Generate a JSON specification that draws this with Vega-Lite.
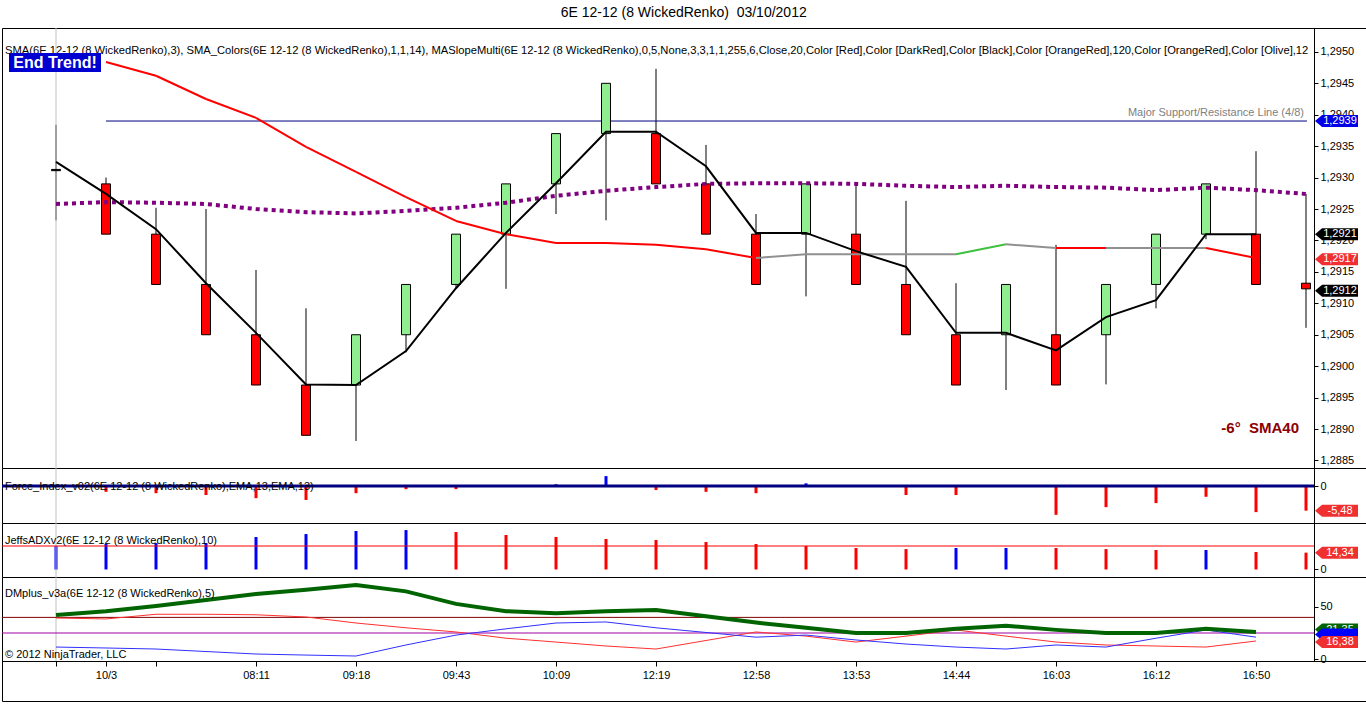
{
  "$schema": "https://vega.github.io/schema/vega-lite/v6.json",
  "title": {"text": "6E 12-12 (8 WickedRenko) \u00a003/10/2012", "fontSize": 14, "fontWeight": "normal", "font": "Liberation Sans", "offset": 7, "anchor": "middle", "color": "#000000"},
  "padding": {"left": 0, "top": 6, "right": 1, "bottom": 0},
  "background": "#ffffff",
  "spacing": 0,
  "bounds": "flush",
  "config": {
    "view": {"stroke": "#000000", "strokeWidth": 1},
    "axis": {"labelFont": "Liberation Sans", "labelFontSize": 11, "labelColor": "#000000", "tickColor": "#000000", "domainColor": "#000000", "grid": false, "title": null, "labelOverlap": false},
    "scale": {"continuousPadding": 0},
    "text": {"font": "Liberation Sans"}
  },
  "datasets": {
    "candles": [
      {"i": 0, "o": 1.29313, "h": 1.29384, "l": 1.29232, "c": 1.29311, "dir": "flat"},
      {"i": 1, "o": 1.2929, "h": 1.2930, "l": 1.2921, "c": 1.2921, "dir": "down"},
      {"i": 2, "o": 1.2921, "h": 1.29252, "l": 1.2913, "c": 1.2913, "dir": "down"},
      {"i": 3, "o": 1.2913, "h": 1.2925, "l": 1.2905, "c": 1.2905, "dir": "down"},
      {"i": 4, "o": 1.2905, "h": 1.29153, "l": 1.2897, "c": 1.2897, "dir": "down"},
      {"i": 5, "o": 1.2897, "h": 1.29092, "l": 1.2889, "c": 1.2889, "dir": "down"},
      {"i": 6, "o": 1.2897, "h": 1.2905, "l": 1.28881, "c": 1.2905, "dir": "up"},
      {"i": 7, "o": 1.2905, "h": 1.2913, "l": 1.29022, "c": 1.2913, "dir": "up"},
      {"i": 8, "o": 1.2913, "h": 1.2921, "l": 1.29123, "c": 1.2921, "dir": "up"},
      {"i": 9, "o": 1.2921, "h": 1.2929, "l": 1.29123, "c": 1.2929, "dir": "up"},
      {"i": 10, "o": 1.2929, "h": 1.2937, "l": 1.29242, "c": 1.2937, "dir": "up"},
      {"i": 11, "o": 1.2937, "h": 1.2945, "l": 1.29232, "c": 1.2945, "dir": "up"},
      {"i": 12, "o": 1.2937, "h": 1.29473, "l": 1.2929, "c": 1.2929, "dir": "down"},
      {"i": 13, "o": 1.2929, "h": 1.29352, "l": 1.2921, "c": 1.2921, "dir": "down"},
      {"i": 14, "o": 1.2921, "h": 1.29242, "l": 1.2913, "c": 1.2913, "dir": "down"},
      {"i": 15, "o": 1.2921, "h": 1.2929, "l": 1.29111, "c": 1.2929, "dir": "up"},
      {"i": 16, "o": 1.2921, "h": 1.29291, "l": 1.2913, "c": 1.2913, "dir": "down"},
      {"i": 17, "o": 1.2913, "h": 1.29263, "l": 1.2905, "c": 1.2905, "dir": "down"},
      {"i": 18, "o": 1.2905, "h": 1.29132, "l": 1.2897, "c": 1.2897, "dir": "down"},
      {"i": 19, "o": 1.2905, "h": 1.2913, "l": 1.28962, "c": 1.2913, "dir": "up"},
      {"i": 20, "o": 1.2905, "h": 1.29193, "l": 1.2897, "c": 1.2897, "dir": "down"},
      {"i": 21, "o": 1.2905, "h": 1.2913, "l": 1.28971, "c": 1.2913, "dir": "up"},
      {"i": 22, "o": 1.2913, "h": 1.2921, "l": 1.29092, "c": 1.2921, "dir": "up"},
      {"i": 23, "o": 1.2921, "h": 1.2929, "l": 1.29202, "c": 1.2929, "dir": "up"},
      {"i": 24, "o": 1.2921, "h": 1.29342, "l": 1.2913, "c": 1.2913, "dir": "down"},
      {"i": 25, "o": 1.29132, "h": 1.29274, "l": 1.29061, "c": 1.29123, "dir": "down"}
    ],
    "sma3": [
      {"i": 0, "v": 1.29325}, {"i": 1, "v": 1.29274}, {"i": 2, "v": 1.29218}, {"i": 3, "v": 1.29132},
      {"i": 4, "v": 1.29053}, {"i": 5, "v": 1.28971}, {"i": 6, "v": 1.2897}, {"i": 7, "v": 1.29024},
      {"i": 8, "v": 1.29124}, {"i": 9, "v": 1.29212}, {"i": 10, "v": 1.29291}, {"i": 11, "v": 1.29373},
      {"i": 12, "v": 1.29373}, {"i": 13, "v": 1.29318}, {"i": 14, "v": 1.29212}, {"i": 15, "v": 1.29212},
      {"i": 16, "v": 1.29183}, {"i": 17, "v": 1.29158}, {"i": 18, "v": 1.29053}, {"i": 19, "v": 1.29053},
      {"i": 20, "v": 1.29025}, {"i": 21, "v": 1.29078}, {"i": 22, "v": 1.29105}, {"i": 23, "v": 1.2921},
      {"i": 24, "v": 1.2921}
    ],
    "maseg": [
      {"i0": 1, "v0": 1.29484, "i1": 2, "v1": 1.29462, "k": "down"},
      {"i0": 2, "v0": 1.29462, "i1": 3, "v1": 1.29425, "k": "down"},
      {"i0": 3, "v0": 1.29425, "i1": 4, "v1": 1.29395, "k": "down"},
      {"i0": 4, "v0": 1.29395, "i1": 5, "v1": 1.29349, "k": "down"},
      {"i0": 5, "v0": 1.29349, "i1": 6, "v1": 1.29309, "k": "down"},
      {"i0": 6, "v0": 1.29309, "i1": 7, "v1": 1.29269, "k": "down"},
      {"i0": 7, "v0": 1.29269, "i1": 8, "v1": 1.29231, "k": "down"},
      {"i0": 8, "v0": 1.29231, "i1": 9, "v1": 1.2921, "k": "down"},
      {"i0": 9, "v0": 1.2921, "i1": 10, "v1": 1.29196, "k": "down"},
      {"i0": 10, "v0": 1.29196, "i1": 11, "v1": 1.29196, "k": "down"},
      {"i0": 11, "v0": 1.29196, "i1": 12, "v1": 1.29193, "k": "down"},
      {"i0": 12, "v0": 1.29193, "i1": 13, "v1": 1.29186, "k": "down"},
      {"i0": 13, "v0": 1.29186, "i1": 14, "v1": 1.29172, "k": "down"},
      {"i0": 14, "v0": 1.29172, "i1": 15, "v1": 1.29178, "k": "flat"},
      {"i0": 15, "v0": 1.29178, "i1": 16, "v1": 1.29178, "k": "flat"},
      {"i0": 16, "v0": 1.29178, "i1": 17, "v1": 1.29178, "k": "flat"},
      {"i0": 17, "v0": 1.29178, "i1": 18, "v1": 1.29178, "k": "flat"},
      {"i0": 18, "v0": 1.29178, "i1": 19, "v1": 1.29194, "k": "up"},
      {"i0": 19, "v0": 1.29194, "i1": 20, "v1": 1.29188, "k": "flat"},
      {"i0": 20, "v0": 1.29188, "i1": 21, "v1": 1.29188, "k": "down"},
      {"i0": 21, "v0": 1.29188, "i1": 22, "v1": 1.29188, "k": "flat"},
      {"i0": 22, "v0": 1.29188, "i1": 23, "v1": 1.29188, "k": "flat"},
      {"i0": 23, "v0": 1.29188, "i1": 24, "v1": 1.29172, "k": "down"}
    ],
    "sma40": [
      {"i": 0, "v": 1.29258}, {"i": 1, "v": 1.29261}, {"i": 2, "v": 1.2926}, {"i": 3, "v": 1.29258},
      {"i": 4, "v": 1.2925}, {"i": 5, "v": 1.29245}, {"i": 6, "v": 1.29243}, {"i": 7, "v": 1.29247},
      {"i": 8, "v": 1.29252}, {"i": 9, "v": 1.2926}, {"i": 10, "v": 1.29271}, {"i": 11, "v": 1.29279},
      {"i": 12, "v": 1.29285}, {"i": 13, "v": 1.2929}, {"i": 14, "v": 1.29291}, {"i": 15, "v": 1.29291},
      {"i": 16, "v": 1.2929}, {"i": 17, "v": 1.29287}, {"i": 18, "v": 1.29285}, {"i": 19, "v": 1.29287},
      {"i": 20, "v": 1.29285}, {"i": 21, "v": 1.29284}, {"i": 22, "v": 1.2928}, {"i": 23, "v": 1.29284},
      {"i": 24, "v": 1.2928}, {"i": 25, "v": 1.29274}
    ],
    "force": [
      {"i": 1, "v": -1.3}, {"i": 2, "v": -1.6}, {"i": 3, "v": -2.0}, {"i": 4, "v": -2.7},
      {"i": 5, "v": -3.1}, {"i": 6, "v": -1.6}, {"i": 7, "v": -0.7}, {"i": 8, "v": -0.7},
      {"i": 9, "v": 0}, {"i": 10, "v": 0.4}, {"i": 11, "v": 2.2}, {"i": 12, "v": -0.9},
      {"i": 13, "v": -1.3}, {"i": 14, "v": -1.6}, {"i": 15, "v": 0.6}, {"i": 16, "v": 0},
      {"i": 17, "v": -2.0}, {"i": 18, "v": -2.0}, {"i": 19, "v": -0.1}, {"i": 20, "v": -6.4},
      {"i": 21, "v": -4.7}, {"i": 22, "v": -3.8}, {"i": 23, "v": -2.4}, {"i": 24, "v": -5.8},
      {"i": 25, "v": -5.48}
    ],
    "adx": [
      {"i": 0, "v": 20, "dir": "up"}, {"i": 1, "v": 21.7, "dir": "up"}, {"i": 2, "v": 22.5, "dir": "up"},
      {"i": 3, "v": 22.5, "dir": "up"}, {"i": 4, "v": 27.7, "dir": "up"}, {"i": 5, "v": 30.2, "dir": "up"},
      {"i": 6, "v": 32.8, "dir": "up"}, {"i": 7, "v": 33.6, "dir": "up"}, {"i": 8, "v": 31.9, "dir": "down"},
      {"i": 9, "v": 29.4, "dir": "down"}, {"i": 10, "v": 27.7, "dir": "down"}, {"i": 11, "v": 26, "dir": "down"},
      {"i": 12, "v": 25.1, "dir": "down"}, {"i": 13, "v": 23.4, "dir": "down"}, {"i": 14, "v": 21.7, "dir": "down"},
      {"i": 15, "v": 20, "dir": "down"}, {"i": 16, "v": 18.3, "dir": "down"}, {"i": 17, "v": 17.4, "dir": "down"},
      {"i": 18, "v": 18.3, "dir": "up"}, {"i": 19, "v": 18.3, "dir": "up"}, {"i": 20, "v": 18.3, "dir": "down"},
      {"i": 21, "v": 17.4, "dir": "down"}, {"i": 22, "v": 16.6, "dir": "down"}, {"i": 23, "v": 16.6, "dir": "up"},
      {"i": 24, "v": 14.9, "dir": "down"}, {"i": 25, "v": 14.34, "dir": "down"}
    ],
    "dm": [
      {"i": 0, "adx": 42.3, "dmm": 39.4, "dmp": 11.5},
      {"i": 1, "adx": 46, "dmm": 38.5, "dmp": 10.6},
      {"i": 2, "adx": 51, "dmm": 43, "dmp": 9.6},
      {"i": 3, "adx": 56.7, "dmm": 43, "dmp": 7.2},
      {"i": 4, "adx": 62.5, "dmm": 42.5, "dmp": 4.8},
      {"i": 5, "adx": 66.5, "dmm": 40.4, "dmp": 3.8},
      {"i": 6, "adx": 71, "dmm": 34.6, "dmp": 2.9},
      {"i": 7, "adx": 65, "dmm": 30, "dmp": 13.5},
      {"i": 8, "adx": 53, "dmm": 26, "dmp": 23},
      {"i": 9, "adx": 46, "dmm": 20, "dmp": 29},
      {"i": 10, "adx": 44, "dmm": 16.3, "dmp": 34.6},
      {"i": 11, "adx": 46, "dmm": 12.5, "dmp": 35.6},
      {"i": 12, "adx": 47, "dmm": 9.6, "dmp": 30},
      {"i": 13, "adx": 41, "dmm": 17.8, "dmp": 25.5},
      {"i": 14, "adx": 35, "dmm": 26, "dmp": 21},
      {"i": 15, "adx": 30, "dmm": 22, "dmp": 23},
      {"i": 16, "adx": 25, "dmm": 16.3, "dmp": 18.3},
      {"i": 17, "adx": 25, "dmm": 22, "dmp": 14.4},
      {"i": 18, "adx": 29, "dmm": 27.9, "dmp": 11.5},
      {"i": 19, "adx": 32, "dmm": 22, "dmp": 9.6},
      {"i": 20, "adx": 28, "dmm": 16.3, "dmp": 13.5},
      {"i": 21, "adx": 25, "dmm": 13.5, "dmp": 11.5},
      {"i": 22, "adx": 25, "dmm": 12.5, "dmp": 20},
      {"i": 23, "adx": 29, "dmm": 11.5, "dmp": 27.9},
      {"i": 24, "adx": 26, "dmm": 17.3, "dmp": 21}
    ]
  },
  "vconcat": [
    {
      "width": 1365,
      "height": 440,
      "resolve": {"scale": {"fill": "independent", "stroke": "independent", "color": "independent"}},
      "layer": [
        {
          "data": {"name": "candles"},
          "mark": {"type": "rule", "color": "#000000", "strokeWidth": 1},
          "encoding": {
            "x": {"field": "i", "type": "quantitative", "scale": {"domain": [-1.08, 26.22], "nice": false, "zero": false, "padding": 0}, "axis": null},
            "y": {"field": "l", "type": "quantitative", "scale": {"domain": [1.28838, 1.29538], "nice": false, "zero": false},
              "axis": {"orient": "right", "offset": -53, "values": [1.2885, 1.289, 1.2895, 1.29, 1.2905, 1.291, 1.2915, 1.292, 1.2925, 1.293, 1.2935, 1.294, 1.2945, 1.295],
                "tickCount": 40, "labelExpr": "replace(format(datum.value, '.4f'), '.', ',')", "tickSize": 4, "labelPadding": 2, "domain": true, "labelOverlap": false, "labelFlush": false, "labelBound": false}},
            "y2": {"field": "h"}
          }
        },
        {
          "data": {"values": [{}]},
          "mark": {"type": "rule", "color": "#c0c0c0", "strokeWidth": 1},
          "encoding": {"x": {"datum": 0, "type": "quantitative"}}
        },
        {
          "data": {"values": [{}]},
          "mark": {"type": "rule", "color": "#000080", "strokeWidth": 1},
          "encoding": {"x": {"datum": 1, "type": "quantitative"}, "x2": {"datum": 25.02}, "y": {"datum": 1.2939, "type": "quantitative"}}
        },
        {
          "data": {"values": [{}]},
          "mark": {"type": "text", "align": "right", "baseline": "middle", "fontSize": 11, "color": "#808080"},
          "encoding": {"x": {"datum": 24.96, "type": "quantitative"}, "y": {"datum": 1.29403, "type": "quantitative"}, "text": {"value": "Major Support/Resistance Line (4/8)"}}
        },
        {
          "data": {"name": "candles"},
          "mark": {"type": "bar", "width": 9, "stroke": "#000000", "strokeWidth": 1},
          "encoding": {
            "x": {"field": "i", "type": "quantitative"},
            "y": {"field": "o", "type": "quantitative"},
            "y2": {"field": "c"},
            "fill": {"field": "dir", "type": "nominal", "scale": {"domain": ["up", "down", "flat"], "range": ["#90ee90", "#ff0000", "#000000"]}, "legend": null}
          }
        },
        {
          "data": {"name": "sma40"},
          "mark": {"type": "line", "color": "#800080", "strokeWidth": 4, "strokeDash": [4, 4]},
          "encoding": {"x": {"field": "i", "type": "quantitative"}, "y": {"field": "v", "type": "quantitative"}}
        },
        {
          "data": {"name": "maseg"},
          "mark": {"type": "rule", "strokeWidth": 2},
          "encoding": {
            "x": {"field": "i0", "type": "quantitative"},
            "x2": {"field": "i1"},
            "y": {"field": "v0", "type": "quantitative"},
            "y2": {"field": "v1"},
            "stroke": {"field": "k", "type": "nominal", "scale": {"domain": ["down", "flat", "up"], "range": ["#ff0000", "#909090", "#40c040"]}, "legend": null}
          }
        },
        {
          "data": {"name": "sma3"},
          "mark": {"type": "line", "color": "#000000", "strokeWidth": 2},
          "encoding": {"x": {"field": "i", "type": "quantitative"}, "y": {"field": "v", "type": "quantitative"}}
        },
        {
          "data": {"values": [{}]},
          "mark": {"type": "text", "align": "left", "baseline": "middle", "fontSize": 11.2, "color": "#000000"},
          "encoding": {"x": {"datum": -1.02, "type": "quantitative"}, "y": {"datum": 1.29502, "type": "quantitative"},
            "text": {"value": "SMA(6E 12-12 (8 WickedRenko),3), SMA_Colors(6E 12-12 (8 WickedRenko),1,1,14), MASlopeMulti(6E 12-12 (8 WickedRenko),0,5,None,3,3,1,1,255,6,Close,20,Color [Red],Color [DarkRed],Color [Black],Color [OrangeRed],120,Color [OrangeRed],Color [Olive],12"}}
        },
        {
          "data": {"values": [{}]},
          "mark": {"type": "point", "shape": "M-1,-0.2065L1,-0.2065L1,0.2065L-1,0.2065Z", "size": 8464, "filled": true, "color": "#0000d0", "opacity": 1},
          "encoding": {"x": {"datum": -0.02, "type": "quantitative"}, "y": {"datum": 1.29483, "type": "quantitative"}}
        },
        {
          "data": {"values": [{}]},
          "mark": {"type": "text", "align": "center", "baseline": "middle", "fontSize": 16, "fontWeight": "bold", "color": "#ffffff"},
          "encoding": {"x": {"datum": -0.02, "type": "quantitative"}, "y": {"datum": 1.29483, "type": "quantitative"}, "text": {"value": "End Trend!"}}
        },
        {
          "data": {"values": [{}]},
          "mark": {"type": "text", "align": "right", "baseline": "middle", "fontSize": 15, "fontWeight": "bold", "color": "#8b0000"},
          "encoding": {"x": {"datum": 24.86, "type": "quantitative"}, "y": {"datum": 1.28901, "type": "quantitative"}, "text": {"value": "-6° \u00a0SMA40"}}
        },
        {
          "data": {"values": [
            {"v": 1.2939, "t": "1,2939", "k": "line"},
            {"v": 1.2921, "t": "1,2921", "k": "sma"},
            {"v": 1.2917, "t": "1,2917", "k": "ma"},
            {"v": 1.2912, "t": "1,2912", "k": "price"}
          ]},
          "layer": [
            {
              "mark": {"type": "point", "shape": "M-1,0L-0.67,-0.28L1,-0.28L1,0.28L-0.67,0.28Z", "size": 1849, "filled": true, "opacity": 1},
              "encoding": {"x": {"datum": 25.61, "type": "quantitative"}, "y": {"field": "v", "type": "quantitative"},
                "fill": {"field": "k", "type": "nominal", "scale": {"domain": ["line", "sma", "ma", "price"], "range": ["#0000e6", "#000000", "#f03030", "#000000"]}, "legend": null}}
            },
            {
              "mark": {"type": "text", "align": "center", "baseline": "middle", "fontSize": 11, "color": "#ffffff"},
              "encoding": {"x": {"datum": 25.68, "type": "quantitative"}, "y": {"field": "v", "type": "quantitative"}, "text": {"field": "t"}}
            }
          ]
        }
      ]
    },
    {
      "width": 1365,
      "height": 55,
      "layer": [
        {
          "data": {"name": "force"},
          "mark": {"type": "bar", "width": 3},
          "encoding": {
            "x": {"field": "i", "type": "quantitative", "scale": {"domain": [-1.08, 26.22], "nice": false, "zero": false, "padding": 0}, "axis": null},
            "y": {"field": "v", "type": "quantitative", "scale": {"domain": [-8.22, 4.0], "nice": false, "zero": false},
              "axis": {"orient": "right", "offset": -53, "values": [0], "tickSize": 4, "labelPadding": 2, "domain": true}},
            "y2": {"datum": 0},
            "color": {"condition": {"test": "datum.v > 0", "value": "#0000ff"}, "value": "#ff0000"}
          }
        },
        {
          "data": {"values": [{}]},
          "mark": {"type": "rule", "color": "#c0c0c0", "strokeWidth": 1},
          "encoding": {"x": {"datum": 0, "type": "quantitative"}}
        },
        {
          "data": {"values": [{}]},
          "mark": {"type": "rule", "color": "#000080", "strokeWidth": 3},
          "encoding": {"x": {"datum": -1.08, "type": "quantitative"}, "x2": {"datum": 25.16}, "y": {"datum": 0, "type": "quantitative"}}
        },
        {
          "data": {"values": [{}]},
          "mark": {"type": "text", "align": "left", "baseline": "middle", "fontSize": 11, "color": "#000000"},
          "encoding": {"x": {"datum": -1.02, "type": "quantitative"}, "y": {"datum": -0.2, "type": "quantitative"}, "text": {"value": "Force_Index_v02(6E 12-12 (8 WickedRenko),EMA,13,EMA,13)"}}
        },
        {
          "data": {"values": [{"v": -5.48, "t": "-5,48"}]},
          "layer": [
            {
              "mark": {"type": "point", "shape": "M-1,0L-0.67,-0.28L1,-0.28L1,0.28L-0.67,0.28Z", "size": 1849, "filled": true, "opacity": 1, "color": "#f03030"},
              "encoding": {"x": {"datum": 25.61, "type": "quantitative"}, "y": {"field": "v", "type": "quantitative"}}
            },
            {
              "mark": {"type": "text", "align": "center", "baseline": "middle", "fontSize": 11, "color": "#ffffff"},
              "encoding": {"x": {"datum": 25.68, "type": "quantitative"}, "y": {"field": "v", "type": "quantitative"}, "text": {"field": "t"}}
            }
          ]
        }
      ]
    },
    {
      "width": 1365,
      "height": 54,
      "layer": [
        {
          "data": {"name": "adx"},
          "mark": {"type": "bar", "width": 3},
          "encoding": {
            "x": {"field": "i", "type": "quantitative", "scale": {"domain": [-1.08, 26.22], "nice": false, "zero": false, "padding": 0}, "axis": null},
            "y": {"field": "v", "type": "quantitative", "scale": {"domain": [-6.4, 39.6], "nice": false, "zero": false},
              "axis": {"orient": "right", "offset": -53, "values": [0], "tickSize": 4, "labelPadding": 2, "domain": true}},
            "y2": {"datum": 0},
            "color": {"field": "dir", "type": "nominal", "scale": {"domain": ["up", "down"], "range": ["#0000ff", "#ff0000"]}, "legend": null}
          }
        },
        {
          "data": {"values": [{}]},
          "mark": {"type": "rule", "color": "#c0c0c0", "strokeWidth": 1},
          "encoding": {"x": {"datum": 0, "type": "quantitative"}}
        },
        {
          "data": {"values": [{}]},
          "mark": {"type": "rule", "color": "#ff0000", "strokeWidth": 1},
          "encoding": {"x": {"datum": -1.08, "type": "quantitative"}, "x2": {"datum": 25.16}, "y": {"datum": 20, "type": "quantitative"}}
        },
        {
          "data": {"values": [{}]},
          "mark": {"type": "text", "align": "left", "baseline": "middle", "fontSize": 11, "color": "#000000"},
          "encoding": {"x": {"datum": -1.02, "type": "quantitative"}, "y": {"datum": 24.3, "type": "quantitative"}, "text": {"value": "JeffsADXv2(6E 12-12 (8 WickedRenko),10)"}}
        },
        {
          "data": {"values": [{"v": 14.34, "t": "14,34"}]},
          "layer": [
            {
              "mark": {"type": "point", "shape": "M-1,0L-0.67,-0.28L1,-0.28L1,0.28L-0.67,0.28Z", "size": 1849, "filled": true, "opacity": 1, "color": "#f03030"},
              "encoding": {"x": {"datum": 25.61, "type": "quantitative"}, "y": {"field": "v", "type": "quantitative"}}
            },
            {
              "mark": {"type": "text", "align": "center", "baseline": "middle", "fontSize": 11, "color": "#ffffff"},
              "encoding": {"x": {"datum": 25.68, "type": "quantitative"}, "y": {"field": "v", "type": "quantitative"}, "text": {"field": "t"}}
            }
          ]
        }
      ]
    },
    {
      "width": 1365,
      "height": 84,
      "layer": [
        {
          "data": {"values": [{}]},
          "mark": {"type": "rule", "color": "#c0c0c0", "strokeWidth": 1},
          "encoding": {
            "x": {"datum": 0, "type": "quantitative", "scale": {"domain": [-1.08, 26.22], "nice": false, "zero": false, "padding": 0},
              "axis": {"orient": "bottom", "values": [0, 1, 2, 4, 6, 8, 10, 12, 14, 16, 18, 20, 22, 24], "tickCount": 40,
                "labelExpr": "['', '10/3', '', '', '08:11', '', '09:18', '', '09:43', '', '10:09', '', '12:19', '', '12:58', '', '13:53', '', '14:44', '', '16:03', '', '16:12', '', '16:50'][datum.value]",
                "tickSize": 5, "labelPadding": 3, "domain": true, "labelOverlap": false, "labelFlush": false}}
          }
        },
        {
          "data": {"values": [{}]},
          "mark": {"type": "rule", "color": "#800000", "strokeWidth": 1},
          "encoding": {"x": {"datum": -1.08, "type": "quantitative"}, "x2": {"datum": 25.16},
            "y": {"datum": 40, "type": "quantitative", "scale": {"domain": [-1.9, 78.8], "nice": false, "zero": false},
              "axis": {"orient": "right", "offset": -53, "values": [0, 50], "tickSize": 4, "labelPadding": 2, "domain": true}}}
        },
        {
          "data": {"values": [{}]},
          "mark": {"type": "rule", "color": "#a000a0", "strokeWidth": 1},
          "encoding": {"x": {"datum": -1.08, "type": "quantitative"}, "x2": {"datum": 25.16}, "y": {"datum": 25, "type": "quantitative"}}
        },
        {
          "data": {"name": "dm"},
          "mark": {"type": "line", "color": "#ff3030", "strokeWidth": 1},
          "encoding": {"x": {"field": "i", "type": "quantitative"}, "y": {"field": "dmm", "type": "quantitative"}}
        },
        {
          "data": {"name": "dm"},
          "mark": {"type": "line", "color": "#3030ff", "strokeWidth": 1},
          "encoding": {"x": {"field": "i", "type": "quantitative"}, "y": {"field": "dmp", "type": "quantitative"}}
        },
        {
          "data": {"name": "dm"},
          "mark": {"type": "line", "color": "#006400", "strokeWidth": 4},
          "encoding": {"x": {"field": "i", "type": "quantitative"}, "y": {"field": "adx", "type": "quantitative"}}
        },
        {
          "data": {"values": [{}]},
          "mark": {"type": "text", "align": "left", "baseline": "middle", "fontSize": 11, "color": "#000000"},
          "encoding": {"x": {"datum": -1.02, "type": "quantitative"}, "y": {"datum": 62.5, "type": "quantitative"}, "text": {"value": "DMplus_v3a(6E 12-12 (8 WickedRenko),5)"}}
        },
        {
          "data": {"values": [{}]},
          "mark": {"type": "text", "align": "left", "baseline": "middle", "fontSize": 11, "color": "#000000"},
          "encoding": {"x": {"datum": -1.02, "type": "quantitative"}, "y": {"datum": 3.8, "type": "quantitative"}, "text": {"value": "© 2012 NinjaTrader, LLC"}}
        },
        {
          "data": {"values": [{"v": 28.3, "t": "21,35"}]},
          "layer": [
            {
              "mark": {"type": "point", "shape": "M-1,0L-0.67,-0.28L1,-0.28L1,0.28L-0.67,0.28Z", "size": 1849, "filled": true, "opacity": 1, "color": "#006400"},
              "encoding": {"x": {"datum": 25.61, "type": "quantitative"}, "y": {"field": "v", "type": "quantitative"}}
            },
            {
              "mark": {"type": "text", "align": "center", "baseline": "middle", "fontSize": 11, "color": "#ffffff"},
              "encoding": {"x": {"datum": 25.68, "type": "quantitative"}, "y": {"field": "v", "type": "quantitative"}, "text": {"field": "t"}}
            }
          ]
        },
        {
          "data": {"values": [{"v": 23.6}]},
          "mark": {"type": "point", "shape": "M-1,0L-0.67,-0.28L1,-0.28L1,0.28L-0.67,0.28Z", "size": 1849, "filled": true, "opacity": 1, "color": "#0000ff"},
          "encoding": {"x": {"datum": 25.61, "type": "quantitative"}, "y": {"field": "v", "type": "quantitative"}}
        },
        {
          "data": {"values": [{"v": 16.38, "t": "16,38"}]},
          "layer": [
            {
              "mark": {"type": "point", "shape": "M-1,0L-0.67,-0.28L1,-0.28L1,0.28L-0.67,0.28Z", "size": 1849, "filled": true, "opacity": 1, "color": "#f03030"},
              "encoding": {"x": {"datum": 25.61, "type": "quantitative"}, "y": {"field": "v", "type": "quantitative"}}
            },
            {
              "mark": {"type": "text", "align": "center", "baseline": "middle", "fontSize": 11, "color": "#ffffff"},
              "encoding": {"x": {"datum": 25.68, "type": "quantitative"}, "y": {"field": "v", "type": "quantitative"}, "text": {"field": "t"}}
            }
          ]
        }
      ]
    },
    {
      "width": 1365,
      "height": 40,
      "data": {"values": [{}]},
      "mark": {"type": "rule", "opacity": 0},
      "encoding": {"x": {"datum": 0, "type": "quantitative", "scale": {"domain": [-1.08, 26.22], "nice": false, "zero": false}, "axis": null}}
    }
  ]
}
